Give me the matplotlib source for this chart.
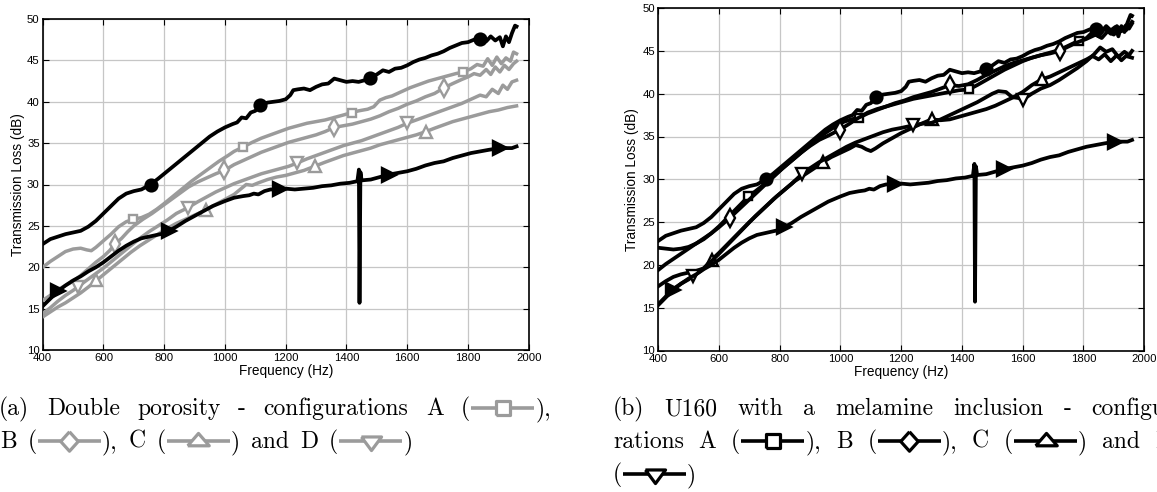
import matplotlib
matplotlib.use("Agg")
import matplotlib.pyplot as plt
from matplotlib.lines import Line2D

# ---------------------------------------------------------------- data
# Reference curves (shared by both panels)
freq_top = [400, 425, 450, 475, 500, 525, 550, 575, 600, 625, 650, 675, 700, 725, 755,
            780, 800, 830, 860, 890, 920, 950, 975, 1000, 1025, 1040, 1055, 1070, 1085,
            1100, 1117, 1140, 1160, 1180, 1200, 1215, 1225, 1240, 1260, 1280, 1300, 1320,
            1340, 1360, 1380, 1400, 1420, 1440, 1460, 1479, 1500, 1520, 1540, 1560, 1580,
            1600, 1620, 1640, 1660, 1680, 1700, 1720, 1740, 1760, 1780, 1800, 1820, 1841,
            1860, 1875, 1890, 1905, 1915, 1925, 1935, 1945, 1955, 1960]
tl_top = [22.8, 23.4, 23.7, 24.0, 24.2, 24.4, 24.9, 25.6, 26.5, 27.4, 28.3, 28.9, 29.2, 29.4, 30.0,
          30.7, 31.3, 32.2, 33.1, 34.0, 34.9, 35.8, 36.4, 36.9, 37.3, 37.5, 38.1, 38.0, 38.7,
          38.9, 39.6, 39.9, 40.0, 40.1, 40.3, 40.8, 41.4, 41.5, 41.6, 41.4, 41.8, 42.1,
          42.2, 42.8, 42.6, 42.4, 42.5, 42.4, 42.6, 42.9, 43.3, 43.8, 43.6, 44.0, 44.1,
          44.4, 44.8, 45.1, 45.3, 45.6, 45.8, 46.1, 46.5, 46.8, 47.1, 47.2, 47.5, 47.6,
          47.3, 47.9, 47.4, 47.8, 46.7, 47.9, 47.2, 48.3, 49.2, 49.1]
marks_top = [755, 1117, 1479, 1841]

freq_bot = [400, 425, 450, 475, 500, 525, 550, 575, 600, 625, 650, 675, 700, 725, 750,
            775, 800, 815, 840, 870, 900, 930, 960, 1000, 1030, 1060, 1080, 1095, 1110,
            1130, 1150, 1180, 1200, 1230, 1260, 1290, 1320, 1350, 1380, 1410, 1436, 1441,
            1443, 1446, 1450, 1480, 1510, 1540, 1570, 1600, 1630, 1660, 1690, 1720, 1750,
            1780, 1810, 1840, 1870, 1905, 1930, 1945, 1960]
tl_bot = [15.3, 16.2, 17.1, 17.8, 18.4, 18.9, 19.5, 20.0, 20.6, 21.3, 22.0, 22.6, 23.1, 23.5, 23.7,
          23.9, 24.1, 24.4, 24.9, 25.6, 26.2, 26.8, 27.4, 28.0, 28.4, 28.6, 28.7, 28.9, 28.8,
          29.2, 29.4, 29.4, 29.5, 29.4, 29.5, 29.6, 29.8, 29.9, 30.1, 30.2, 30.4, 31.8,
          15.7, 31.5, 30.5, 30.6, 30.9, 31.2, 31.4, 31.6, 31.9, 32.3, 32.6, 32.8, 33.2,
          33.5, 33.8, 34.0, 34.2, 34.4, 34.4, 34.4, 34.6]
marks_bot = [450, 815, 1180, 1540, 1905]

# Double porosity, configurations A-D
freq_dp_a = [400, 425, 450, 475, 500, 525, 545, 560, 575, 600, 625, 650, 675, 698, 725, 750,
             775, 800, 830, 860, 890, 920, 950, 980, 1010, 1030, 1058, 1090, 1120, 1150,
             1180, 1210, 1240, 1270, 1300, 1330, 1360, 1390, 1418, 1440, 1470, 1490, 1510,
             1530, 1550, 1580, 1610, 1640, 1670, 1700, 1730, 1760, 1785, 1810, 1830, 1850,
             1865, 1880, 1895, 1910, 1925, 1940, 1950, 1960]
tl_dp_a = [20.0, 20.7, 21.3, 21.9, 22.2, 22.3, 22.1, 22.0, 22.4, 23.2, 24.0, 24.9, 25.5, 25.8, 26.0, 26.4,
           27.0, 27.7, 28.6, 29.5, 30.4, 31.2, 32.0, 32.8, 33.5, 34.0, 34.5, 35.1, 35.6, 36.0,
           36.4, 36.8, 37.1, 37.4, 37.6, 37.8, 38.1, 38.4, 38.7, 38.9, 39.1, 39.4, 40.2,
           40.5, 40.7, 41.2, 41.7, 42.1, 42.5, 42.8, 43.1, 43.4, 43.6, 44.0, 44.5, 44.3,
           45.2, 44.4, 45.4, 44.6, 45.3, 44.9, 46.0, 45.8]
marks_dp_a = [698, 1058, 1418, 1785]

freq_dp_b = [400, 425, 450, 475, 500, 525, 550, 575, 600, 620, 638, 660, 680, 700, 730, 760,
             790, 820, 850, 880, 910, 940, 970, 998, 1030, 1060, 1090, 1120, 1150, 1180,
             1210, 1240, 1270, 1300, 1330, 1360, 1390, 1420, 1450, 1480, 1510, 1540, 1570,
             1600, 1630, 1660, 1690, 1722, 1750, 1780, 1800, 1820, 1840, 1860, 1875, 1890,
             1905, 1920, 1935, 1950, 1960]
tl_dp_b = [16.0, 16.6, 17.3, 17.8, 18.3, 19.0, 19.8, 20.6, 21.3, 22.0, 22.8, 23.5, 24.3, 25.0, 25.8, 26.5,
           27.3, 28.1, 28.9, 29.7, 30.3, 30.8, 31.3, 31.7, 32.4, 32.9, 33.4, 33.9, 34.3, 34.7,
           35.1, 35.4, 35.7, 36.0, 36.4, 36.9, 37.1, 37.3, 37.6, 37.9, 38.3, 38.8, 39.2,
           39.7, 40.1, 40.6, 41.0, 41.7, 42.2, 42.7, 43.0, 43.4, 43.2, 43.9, 43.3, 44.2,
           43.6, 44.4, 43.9, 44.6, 44.9]
marks_dp_b = [638, 998, 1360, 1722]

freq_dp_c = [400, 425, 450, 475, 500, 525, 550, 577, 600, 630, 660, 690, 720, 750, 780, 810,
             840, 870, 900, 937, 970, 1000, 1030, 1050, 1070, 1090, 1110, 1140, 1170, 1200,
             1230, 1260, 1295, 1330, 1360, 1390, 1420, 1450, 1480, 1510, 1540, 1570, 1600,
             1630, 1662, 1690, 1720, 1750, 1780, 1810, 1840, 1870, 1900, 1930, 1960]
tl_dp_c = [14.0, 14.6, 15.2, 15.7, 16.3, 16.9, 17.6, 18.4, 19.1, 20.0, 20.9, 21.8, 22.6, 23.3, 24.0, 24.7,
           25.3, 25.8, 26.3, 26.9, 27.6, 28.2, 28.8, 29.4, 30.0, 29.9, 30.2, 30.6, 30.9, 31.1,
           31.4, 31.7, 32.2, 32.7, 33.1, 33.5, 33.8, 34.1, 34.4, 34.8, 35.1, 35.4, 35.7,
           36.0, 36.4, 36.8, 37.2, 37.6, 37.9, 38.2, 38.5, 38.8, 39.0, 39.3, 39.5]
marks_dp_c = [577, 937, 1295, 1662]

freq_dp_d = [400, 425, 450, 475, 500, 515, 540, 570, 600, 630, 660, 690, 720, 750, 780, 810,
             840, 878, 910, 940, 970, 1000, 1030, 1060, 1090, 1120, 1150, 1180, 1210, 1238,
             1270, 1300, 1330, 1360, 1390, 1420, 1450, 1480, 1510, 1540, 1570, 1600, 1630,
             1660, 1690, 1720, 1750, 1780, 1810, 1840, 1860, 1880, 1900, 1915, 1930, 1945, 1960]
tl_dp_d = [14.4, 15.1, 15.9, 16.6, 17.2, 17.6, 18.3, 19.1, 19.9, 20.8, 21.7, 22.6, 23.5, 24.3, 25.0, 25.7,
           26.5, 27.2, 27.9, 28.5, 29.1, 29.6, 30.1, 30.5, 30.9, 31.3, 31.6, 31.9, 32.2, 32.6,
           33.1, 33.5, 33.9, 34.3, 34.7, 35.0, 35.3, 35.7, 36.1, 36.5, 36.9, 37.4, 37.8,
           38.2, 38.6, 39.0, 39.4, 39.8, 40.3, 40.8, 40.6, 41.5, 41.0, 42.0, 41.5, 42.4, 42.6]
marks_dp_d = [515, 878, 1238, 1600]

# U160 with a melamine inclusion, configurations A-D
freq_u_a = [400, 425, 450, 475, 500, 525, 550, 575, 600, 625, 650, 675, 697, 720, 745, 770,
            800, 830, 860, 890, 920, 950, 980, 1010, 1035, 1061, 1090, 1120, 1150, 1180,
            1210, 1240, 1270, 1300, 1330, 1360, 1390, 1423, 1450, 1480, 1510, 1540, 1570,
            1600, 1630, 1660, 1690, 1720, 1750, 1785, 1810, 1830, 1850, 1870, 1890, 1910,
            1925, 1940, 1950, 1960]
tl_u_a = [22.0, 21.9, 21.8, 21.9, 22.1, 22.5, 23.0, 23.7, 24.5, 25.4, 26.3, 27.2, 28.0, 28.6, 29.3, 30.1,
          31.0, 31.9, 32.8, 33.7, 34.6, 35.4, 36.1, 36.7, 37.0, 37.2, 37.8, 38.2, 38.5, 38.8,
          39.1, 39.4, 39.6, 39.8, 40.0, 40.2, 40.4, 40.5, 41.0, 41.6, 42.2, 42.8, 43.3,
          43.8, 44.2, 44.5, 44.8, 45.1, 45.6, 46.2, 46.5, 47.2, 46.7, 47.6, 47.0, 47.9,
          47.3, 48.0, 47.6, 48.2]
marks_u_a = [697, 1061, 1423, 1785]

freq_u_b = [400, 425, 450, 475, 500, 525, 550, 575, 600, 636, 660, 690, 720, 750, 780, 810,
            840, 870, 900, 930, 960, 998, 1030, 1060, 1090, 1120, 1150, 1180, 1210, 1240,
            1270, 1300, 1330, 1360, 1390, 1420, 1450, 1480, 1510, 1540, 1570, 1600, 1630,
            1660, 1690, 1722, 1750, 1780, 1810, 1840, 1860, 1880, 1900, 1920, 1940, 1960]
tl_u_b = [19.4, 20.1, 20.7, 21.3, 21.9, 22.5, 23.1, 23.7, 24.4, 25.5, 26.3, 27.3, 28.3, 29.3, 30.3, 31.3,
          32.2, 33.1, 33.9, 34.6, 35.1, 35.8, 36.5, 37.2, 37.7, 38.1, 38.5, 38.9, 39.2, 39.6,
          39.9, 40.2, 40.6, 41.0, 40.9, 41.1, 41.6, 42.2, 42.7, 43.2, 43.6, 43.9, 44.2,
          44.5, 44.7, 45.0, 45.5, 46.0, 46.4, 46.9, 46.5, 47.3, 46.9, 47.7, 47.4, 48.4]
marks_u_b = [636, 998, 1360, 1722]

freq_u_c = [400, 425, 450, 475, 500, 525, 550, 576, 600, 625, 650, 675, 700, 730, 760, 790,
            820, 850, 880, 910, 942, 970, 1000, 1030, 1050, 1070, 1085, 1100, 1115, 1140,
            1170, 1200, 1230, 1260, 1300, 1330, 1360, 1390, 1420, 1450, 1480, 1510, 1540,
            1570, 1600, 1630, 1664, 1690, 1720, 1750, 1780, 1810, 1830, 1850, 1870, 1890,
            1910, 1925, 1940, 1960]
tl_u_c = [17.5, 18.1, 18.6, 18.9, 19.1, 19.3, 19.6, 20.6, 21.4, 22.3, 23.2, 24.1, 25.0, 26.0, 27.0, 28.0,
          28.9, 29.8, 30.5, 31.2, 32.0, 32.6, 33.1, 33.6, 34.0, 33.8, 33.5, 33.3, 33.6, 34.2,
          34.8, 35.4, 35.9, 36.4, 37.0, 36.9, 37.0, 37.3, 37.6, 37.9, 38.2, 38.6, 39.1,
          39.6, 40.2, 41.0, 41.7, 42.0, 42.5, 43.0, 43.5, 44.0, 44.4, 44.0, 44.6, 43.8,
          44.5, 43.9, 44.4, 44.2]
marks_u_c = [576, 942, 1300, 1664]

freq_u_d = [400, 425, 450, 475, 500, 515, 540, 560, 580, 600, 630, 660, 690, 720, 750, 780,
            810, 840, 873, 900, 930, 960, 990, 1020, 1050, 1080, 1110, 1140, 1170, 1200,
            1239, 1270, 1300, 1330, 1360, 1390, 1420, 1450, 1480, 1500, 1520, 1545, 1565,
            1585, 1600, 1630, 1660, 1690, 1720, 1750, 1780, 1810, 1835, 1855, 1875, 1895,
            1915, 1935, 1950, 1960]
tl_u_d = [15.4, 16.3, 17.2, 17.8, 18.3, 18.7, 19.3, 19.9, 20.6, 21.3, 22.4, 23.5, 24.6, 25.7, 26.7, 27.7,
          28.6, 29.5, 30.6, 31.3, 32.0, 32.6, 33.2, 33.8, 34.3, 34.7, 35.1, 35.5, 35.8, 36.0,
          36.3, 36.5, 36.6, 37.0, 37.5, 38.0, 38.5, 39.0, 39.6, 40.0, 40.3, 40.2, 39.6,
          39.5, 39.3, 40.0, 40.6, 41.0, 41.6, 42.3, 43.0, 43.8, 44.6, 45.4, 44.9, 45.2,
          44.3, 44.9, 44.5, 45.0]
marks_u_d = [515, 873, 1239, 1600]

x_ticks = [400, 600, 800, 1000, 1200, 1400, 1600, 1800, 2000]
y_ticks = [10, 15, 20, 25, 30, 35, 40, 45, 50]
x_label = "Frequency (Hz)"
y_label = "Transmission Loss (dB)"

caption_a = [
    [["(a)"], ["Double"], ["porosity"], ["-"], ["configurations"], ["A"], ["(", "s", "),"]],
    [["B"], ["(", "d", "),"], ["C"], ["(", "^", ")"], ["and"], ["D"], ["(", "v", ")"]],
]
caption_b = [
    [["(b)"], ["U160"], ["with"], ["a"], ["melamine"], ["inclusion"], ["-"], ["configu-"]],
    [["rations"], ["A"], ["(", "s", "),"], ["B"], ["(", "d", "),"], ["C"], ["(", "^", ")"],
     ["and"], ["D"]],
    [["(", "v", ")"]],
]

# ---------------------------------------------------------------- style
W, H, DPI = 1157, 492, 100
GRAY = "#9b9b9b"
SANS = ["Liberation Sans", "DejaVu Sans"]
SERIF = ["cmr10", "DejaVu Serif"]
plt.rcParams["font.family"] = SANS
plt.rcParams["axes.unicode_minus"] = False

fig = plt.figure(figsize=(W / DPI, H / DPI), dpi=DPI)
ax_a = fig.add_axes([42.7 / W, 1 - 350.0 / H, 486 / W, 331 / H])
ax_b = fig.add_axes([658.2 / W, 1 - 350.5 / H, 486 / W, 342.4 / H])

plot_markers = {
    "s": dict(marker="s", ms=6.0),
    "d": dict(marker="d", ms=9.0),
    "^": dict(marker="^", ms=8.0),
    "v": dict(marker="v", ms=8.0),
}


def style_axes(ax):
    ax.set_xlim(400, 2000)
    ax.set_ylim(10, 50)
    ax.set_xticks(x_ticks)
    ax.set_yticks(y_ticks)
    ax.grid(True, color="#c6c6c6", lw=0.9)
    ax.set_axisbelow(True)
    ax.tick_params(direction="in", length=4, width=0.8, top=True, right=True,
                   labelsize=8.2, pad=2.2, colors="black")
    for sp in ax.spines.values():
        sp.set_linewidth(1.2)
    ax.set_xlabel(x_label, fontsize=9.8, labelpad=1.0)
    ax.set_ylabel(y_label, fontsize=9.8, labelpad=2.0)


def draw(ax, f, tl, marks, color, mkey, lw=2.5, **kw):
    idx = [f.index(m) for m in marks]
    mk = plot_markers[mkey] if mkey in plot_markers else kw.pop("mk")
    ax.plot(f, tl, color=color, lw=lw, markevery=idx, mec=color,
            mfc=kw.pop("mfc", "white"), mew=1.7, solid_joinstyle="round", **mk, **kw)


def draw_reference(ax):
    draw(ax, freq_top, tl_top, marks_top, "black", "o", lw=2.7,
         mk=dict(marker="o", ms=8.5), mfc="black", zorder=4)
    draw(ax, freq_bot, tl_bot, marks_bot, "black", ">", lw=2.7,
         mk=dict(marker=">", ms=10), mfc="black", zorder=4)


for ax in (ax_a, ax_b):
    style_axes(ax)

draw(ax_a, freq_dp_a, tl_dp_a, marks_dp_a, GRAY, "s", zorder=3)
draw(ax_a, freq_dp_b, tl_dp_b, marks_dp_b, GRAY, "d", zorder=3)
draw(ax_a, freq_dp_c, tl_dp_c, marks_dp_c, GRAY, "^", zorder=3)
draw(ax_a, freq_dp_d, tl_dp_d, marks_dp_d, GRAY, "v", zorder=3)
draw_reference(ax_a)

draw_reference(ax_b)
draw(ax_b, freq_u_a, tl_u_a, marks_u_a, "black", "s", lw=2.7, zorder=3)
draw(ax_b, freq_u_b, tl_u_b, marks_u_b, "black", "d", lw=2.7, zorder=3)
draw(ax_b, freq_u_c, tl_u_c, marks_u_c, "black", "^", lw=2.7, zorder=3)
draw(ax_b, freq_u_d, tl_u_d, marks_u_d, "black", "v", lw=2.7, zorder=3)

ax_a.yaxis.set_label_coords(-18 / 486, 0.5)
ax_b.yaxis.set_label_coords(-19 / 486, 0.5)

# ---------------------------------------------------------------- captions
CAP_FS = 17
SYM_W = 65.0
SPACE = 11.0
caption_glyphs = {
    "s": dict(marker=[(-1, -1), (1, -1), (1, 1), (-1, 1), (-1, -1)], ms=9.5),
    "d": dict(marker=[(0, 1), (0.9, 0), (0, -1), (-0.9, 0), (0, 1)], ms=14),
    "^": dict(marker=[(-1, -0.4), (1, -0.4), (0, 0.75), (-1, -0.4)], ms=15.5),
    "v": dict(marker=[(-1, 0.45), (1, 0.45), (0, -0.9), (-1, 0.45)], ms=14.5),
}
renderer = fig.canvas.get_renderer()


def draw_symbol(x, yc, key, color):
    fx = [(x + 1) / W, (x + SYM_W - 1) / W]
    fy = 1 - yc / H
    fig.add_artist(Line2D(fx, [fy, fy], color=color, lw=2.6,
                          transform=fig.transFigure, solid_capstyle="butt"))
    fig.add_artist(Line2D([(x + SYM_W / 2) / W], [fy], color=color, lw=0,
                          mec=color, mfc="white", mew=2.3,
                          transform=fig.transFigure, **caption_glyphs[key]))


def caption_line(x0, baseline, words, sym_color, justify=None):
    built = []
    for word in words:
        parts, width = [], 0.0
        for tok in word:
            if tok in caption_glyphs:
                parts.append(("m", tok, SYM_W))
                width += SYM_W
            else:
                t = fig.text(0, 0, tok, fontsize=CAP_FS, family=SERIF,
                             ha="left", va="baseline")
                tw = t.get_window_extent(renderer).width
                parts.append(("t", t, tw))
                width += tw
        built.append((parts, width))
    total = sum(w for _, w in built)
    gap = SPACE if justify is None or len(built) < 2 else (justify - total) / (len(built) - 1)
    x = x0
    for parts, width in built:
        for kind, obj, tw in parts:
            if kind == "t":
                obj.set_position((x / W, 1 - baseline / H))
            else:
                draw_symbol(x, baseline - 7.5, obj, sym_color)
            x += tw
        x += gap


caption_line(-1, 415, caption_a[0], GRAY, justify=552)
caption_line(0, 448, caption_a[1], GRAY)
caption_line(613, 415, caption_b[0], "black", justify=560)
caption_line(613, 448, caption_b[1], "black", justify=560)
caption_line(613, 481, caption_b[2], "black")

fig.savefig("out.png", dpi=DPI)
